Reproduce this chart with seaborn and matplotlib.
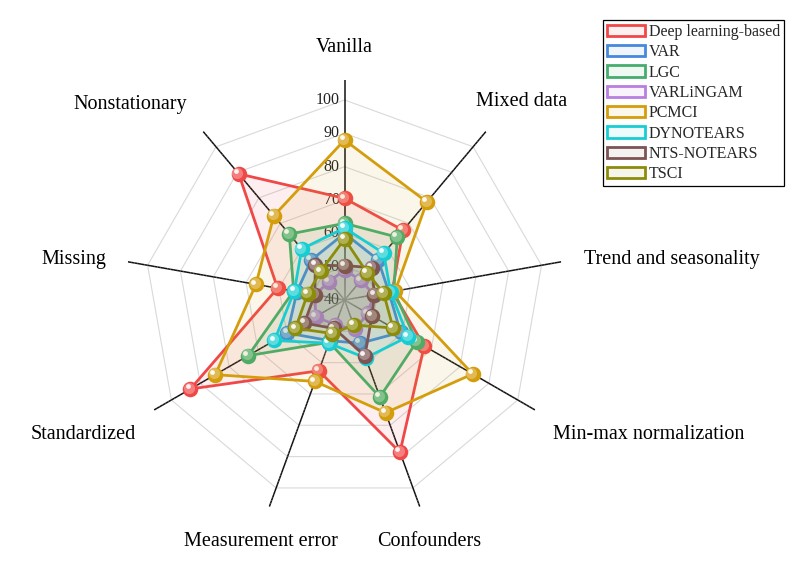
import numpy as np
import matplotlib
matplotlib.use("Agg")
import matplotlib.pyplot as plt
import matplotlib.transforms as mtransforms
from matplotlib.patches import Patch
from matplotlib.collections import LineCollection
import matplotlib.colors as mcolors
import seaborn as sns

# ---------------- data ----------------
categories = ["Vanilla", "Mixed data", "Trend and seasonality", "Min-max normalization",
              "Confounders", "Measurement error", "Standardized", "Missing", "Nonstationary"]
methods = ["Deep learning-based", "VAR", "LGC", "VARLiNGAM", "PCMCI",
           "DYNOTEARS", "NTS-NOTEARS", "TSCI"]

deep_learning = [70.5, 67.3, 54.5, 67.6, 88.6, 62.6, 93.4, 60.4, 89.4]
var_vals      = [60.0, 55.7, 53.5, 59.4, 53.8, 53.0, 59.8, 54.5, 55.6]
lgc           = [63.0, 64.6, 55.0, 65.0, 71.0, 53.5, 73.4, 55.5, 65.8]
varlingam     = [49.0, 47.7, 48.9, 48.0, 49.4, 48.0, 50.0, 49.0, 47.2]
pcmci         = [88.0, 78.4, 55.4, 84.4, 76.0, 66.0, 84.8, 67.0, 73.0]
dynotears     = [61.6, 58.3, 54.0, 62.0, 58.5, 53.8, 64.3, 55.3, 60.0]
nts_notears   = [50.3, 52.7, 49.1, 49.5, 57.8, 49.1, 53.9, 49.1, 53.6]
tsci          = [58.3, 50.6, 51.9, 56.8, 48.0, 50.7, 57.0, 51.2, 51.2]

series = [deep_learning, var_vals, lgc, varlingam, pcmci, dynotears, nts_notears, tsci]
colors = ["#f04848", "#4688de", "#45ad6e", "#b77fe0", "#d49d0c", "#18cdd2", "#7d5353", "#8c8c0a"]

tick_values = [40, 50, 60, 70, 80, 90, 100]
ring_values = [50, 60, 70, 80, 90, 100]
r_min, r_max = 40, 106

# ---------------- style ----------------
sns.set_theme(style="white")
plt.rcParams["font.family"] = ["Liberation Serif", "DejaVu Serif"]

fig = plt.figure(figsize=(7.93, 5.63), dpi=100)
ax = fig.add_axes([0.157, 0.0764, 0.555, 0.7815], projection="polar")
ax.set_theta_zero_location("N")
ax.set_theta_direction(-1)
ax.set_ylim(r_min, r_max)
ax.grid(False)
ax.set_xticks([])
ax.set_yticks([])
ax.spines["polar"].set_visible(False)
ax.set_facecolor("none")

n = len(categories)
theta = np.linspace(0, 2 * np.pi, n, endpoint=False)
theta_c = np.append(theta, theta[0])

# rings (polygon grid)
for rv in ring_values:
    ax.plot(theta_c, [rv] * (n + 1), color="#d9d9d9", lw=0.8, zorder=1)

# spokes: dark outside, fading to grey towards the centre
rs = np.linspace(r_min, r_max, 67)
shade = np.clip((rs - r_min) / (62 - r_min), 0, 1)
seg_cols = [(0.62 * (1 - s) + 0.07 * s,) * 3 for s in shade[:-1]]
for t in theta:
    segs = [[(t, rs[k]), (t, rs[k + 1])] for k in range(len(rs) - 1)]
    lc = LineCollection(segs, colors=seg_cols, linewidths=1.1, zorder=2,
                        transform=ax.transData)
    ax.add_collection(lc)

# radial tick labels
tick_tr = mtransforms.offset_copy(ax.transData, fig=fig, x=-5, y=0, units="dots")
for tv in tick_values:
    ax.text(0, tv, str(tv), transform=tick_tr, ha="right", va="center",
            fontsize=11.5, color="#222222", zorder=3)

# series
hl_tr1 = mtransforms.offset_copy(ax.transData, fig=fig, x=-1.3, y=1.3, units="dots")
hl_tr2 = mtransforms.offset_copy(ax.transData, fig=fig, x=-2.8, y=2.8, units="dots")
for i, (vals, col) in enumerate(zip(series, colors)):
    z = 10 + 4 * i
    vc = np.append(vals, vals[0])
    ax.fill(theta_c, vc, color=col, alpha=0.085, lw=0, zorder=z)
    sns.lineplot(x=theta_c, y=vc, ax=ax, color=col, lw=2.0, sort=False,
                 estimator=None, zorder=z + 1, legend=False)
    rgb = np.array(mcolors.to_rgb(col))
    light = tuple(rgb + (1 - rgb) * 0.3)
    sns.scatterplot(x=theta, y=vals, ax=ax, color=col, s=125, linewidth=0,
                    zorder=z + 2, legend=False)
    ax.scatter(theta, vals, s=64, color=light, linewidth=0, zorder=z + 2.5,
               transform=hl_tr1)
    ax.scatter(theta, vals, s=12, color="white", alpha=0.9, linewidth=0,
               zorder=z + 3, transform=hl_tr2)

ax.set_xlabel("")
ax.set_ylabel("")
ax.set_ylim(r_min, r_max)

# category labels
label_layout = [((0, 33), "center"), ((-10, 30), "left"), ((23, 2), "left"),
                ((18, -25), "left"), ((9, -35), "center"), ((-8, -35), "center"),
                ((-18, -25), "right"), ((-22, 2), "right"), ((-16, 27), "right")]
for t, cat, (off, ha) in zip(theta, categories, label_layout):
    ax.annotate(cat, xy=(t, r_max), xytext=off, textcoords="offset pixels",
                ha=ha, va="center", fontsize=14.5, color="black",
                annotation_clip=False)

# legend
handles = [Patch(facecolor=mcolors.to_rgba(c, 0.08), edgecolor=c, linewidth=2, label=m)
           for m, c in zip(methods, colors)]
leg = fig.legend(handles=handles, loc="upper left", bbox_to_anchor=(0.760, 0.9645),
                 bbox_transform=fig.transFigure, borderaxespad=0, frameon=True,
                 fancybox=False, framealpha=1, edgecolor="black", fontsize=11.5,
                 handlelength=2.4, handleheight=0.7, handletextpad=0.25,
                 labelspacing=0.27, borderpad=0.25)
leg.get_frame().set_linewidth(0.9)

fig.savefig("out.png", dpi=100)
